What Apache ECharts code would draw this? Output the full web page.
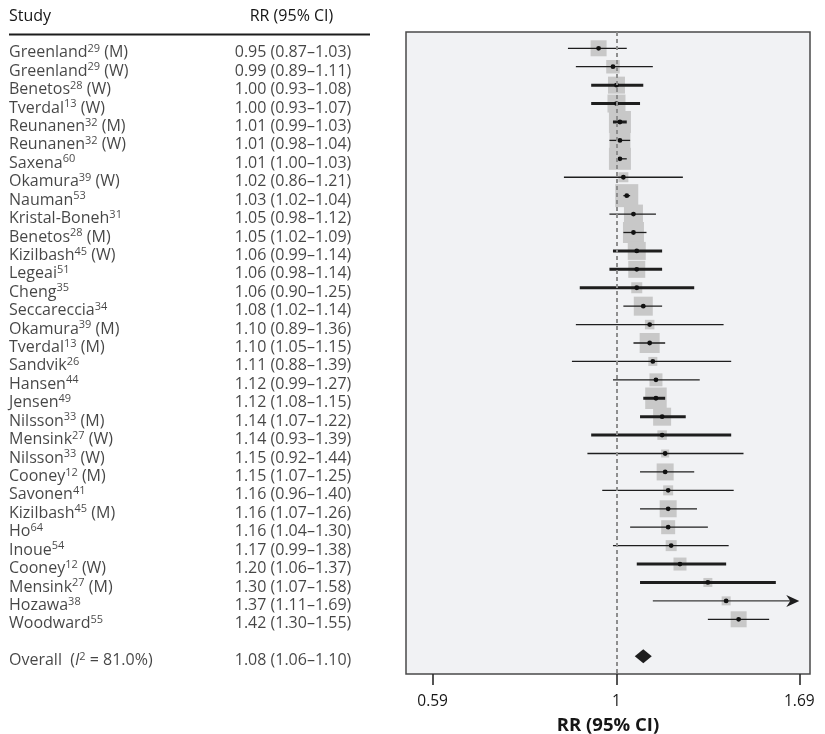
<!DOCTYPE html>
<html><head><meta charset="utf-8">
<script src="https://cdn.jsdelivr.net/npm/echarts@6/dist/echarts.min.js"></script>
<style>html,body{margin:0;padding:0;background:#fff}#c{width:825px;height:734px}</style>
</head><body><div id="c"></div>
<script>
// ---- data ----
const studies = ['Greenland','Greenland','Benetos','Tverdal','Reunanen','Reunanen','Saxena','Okamura','Nauman','Kristal-Boneh','Benetos','Kizilbash','Legeai','Cheng','Seccareccia','Okamura','Tverdal','Sandvik','Hansen','Jensen','Nilsson','Mensink','Nilsson','Cooney','Savonen','Kizilbash','Ho','Inoue','Cooney','Mensink','Hozawa','Woodward'];
const refs = ['29','29','28','13','32','32','60','39','53','31','28','45','51','35','34','39','13','26','44','49','33','27','33','12','41','45','64','54','12','27','38','55'];
const groups = ['(M)','(W)','(W)','(W)','(M)','(W)','','(W)','','','(M)','(W)','','','','(M)','(M)','','','','(M)','(W)','(W)','(M)','','(M)','','','(W)','(M)','',''];
const rr    = [0.95,0.99,1.00,1.00,1.01,1.01,1.01,1.02,1.03,1.05,1.05,1.06,1.06,1.06,1.08,1.10,1.10,1.11,1.12,1.12,1.14,1.14,1.15,1.15,1.16,1.16,1.16,1.17,1.20,1.30,1.37,1.42];
const lower = [0.87,0.89,0.93,0.93,0.99,0.98,1.00,0.86,1.02,0.98,1.02,0.99,0.98,0.90,1.02,0.89,1.05,0.88,0.99,1.08,1.07,0.93,0.92,1.07,0.96,1.07,1.04,0.99,1.06,1.07,1.11,1.30];
const upper = [1.03,1.11,1.08,1.07,1.03,1.04,1.03,1.21,1.04,1.12,1.09,1.14,1.14,1.25,1.14,1.36,1.15,1.39,1.27,1.15,1.22,1.39,1.44,1.25,1.40,1.26,1.30,1.38,1.37,1.58,1.69,1.55];
// relative study weight (drawn as box side)
const weights = [16,13.5,17,18,22,21,22,10,23,19,21,18,17,11,19,9.5,20,9,13,21.5,18,9.5,8,17,10,17,14,11,13,9,9,16];
// CI line group (1 = bold line in source)
const ciGroup = [0,0,1,1,1,0,0,0,0,0,0,1,1,1,0,0,0,0,0,1,1,1,0,0,0,0,0,0,1,1,0,0];
// CI truncated at plot limit (arrow)
const truncated = [0,0,0,0,0,0,0,0,0,0,0,0,0,0,0,0,0,0,0,0,0,0,0,0,0,0,0,0,0,0,1,0];
const overallRR = 1.08, overallLo = 1.06, overallHi = 1.10, overallI2 = '81.0%';
const xTickValues = [0.59, 1, 1.69];
const xTickLabels = ['0.59', '1', '1.69'];

// ---- layout / style ----
const FONT = '"Open Sans", "DejaVu Sans", sans-serif';
const TXT = '#161616';
const ln = Math.log;
const overallRow = studies.length + 1;
const yMin = -0.885, yMax = 33.97;
const xMin = -0.6041, xMax = 0.5555;
const colStudy = 9, colRR = 293;

const fmt = v => v.toFixed(2);
const ciData = rr.map((v, i) => [ln(v), i, ln(lower[i]), ln(upper[i]), weights[i], ciGroup[i], truncated[i]]);
const nameData = studies.map((s, i) => ({value: [colStudy, i], label: {formatter: '{n|' + s + '}{s|' + refs[i] + '}' + (groups[i] ? '{n| ' + groups[i] + '}' : '')}}));
nameData.push({value: [colStudy, overallRow], label: {formatter: '{n|Overall  (}{i|I}{s|2}{n| = ' + overallI2 + ')}'}});
const rrData = rr.map((v, i) => ({value: [colRR, i], label: {formatter: fmt(v) + ' (' + fmt(lower[i]) + '–' + fmt(upper[i]) + ')'}}));
rrData.push({value: [colRR, overallRow], label: {formatter: fmt(overallRR) + ' (' + fmt(overallLo) + '–' + fmt(overallHi) + ')'}});

const rich = {
  n: {fontFamily: FONT, fontSize: 16, color: TXT, lineHeight: 19},
  i: {fontFamily: FONT, fontSize: 16, color: TXT, lineHeight: 19, fontStyle: 'italic'},
  s: {fontFamily: FONT, fontSize: 11, color: TXT, lineHeight: 13, verticalAlign: 'top'}
};

const chart = echarts.init(document.getElementById('c'), null, {renderer: 'canvas'});
chart.setOption({
  animation: false,
  backgroundColor: '#ffffff',
  grid: [
    {left: 406, right: 15, top: 32, bottom: 60, outerBoundsMode: 'none', containLabel: false, show: true, backgroundColor: '#f1f2f4', borderColor: '#4a4a4a', borderWidth: 1.5},
    {left: 0, width: 400, top: 36.5, bottom: 55.5, outerBoundsMode: 'none', containLabel: false, show: false}
  ],
  xAxis: [
    {type: 'value', gridIndex: 0, min: xMin, max: xMax, position: 'bottom',
     splitLine: {show: false}, axisLine: {show: false, onZero: false},
     axisTick: {show: true, length: 11, customValues: xTickValues.map(ln), lineStyle: {color: '#2a2a2a', width: 1.6}},
     axisLabel: {show: true, customValues: xTickValues.map(ln), margin: 20, fontFamily: FONT, fontSize: 15.5, color: TXT,
       formatter: v => { let b = 0; xTickValues.forEach((t, k) => { if (Math.abs(ln(t) - v) < Math.abs(ln(xTickValues[b]) - v)) b = k; }); return xTickLabels[b]; }},
     name: 'RR (95% CI)', nameLocation: 'middle', nameGap: 42,
     nameTextStyle: {fontFamily: FONT, fontSize: 18.5, fontWeight: 'bold', color: TXT}},
    {type: 'value', gridIndex: 1, min: 0, max: 400, show: false}
  ],
  yAxis: [
    {type: 'value', gridIndex: 0, min: yMin, max: yMax, inverse: true, show: false},
    {type: 'value', gridIndex: 1, min: yMin, max: yMax, inverse: true, show: false}
  ],
  graphic: [
    {type: 'text', x: 9, y: 16, style: {text: 'Study', font: '16px ' + FONT, fill: TXT, align: 'left', verticalAlign: 'middle'}},
    {type: 'text', x: 291.5, y: 16, style: {text: 'RR (95% CI)', font: '16px ' + FONT, fill: TXT, align: 'center', verticalAlign: 'middle'}},
    {type: 'line', shape: {x1: 9, y1: 34.5, x2: 370, y2: 34.5}, style: {stroke: '#1c1c1c', lineWidth: 2}}
  ],
  series: [
    {type: 'line', xAxisIndex: 0, yAxisIndex: 0, data: [], z: 1,
     markLine: {silent: true, symbol: 'none', label: {show: false}, animation: false,
       lineStyle: {color: '#8e8e8e', type: [4, 3], width: 2}, data: [{xAxis: ln(1)}]}},
    {type: 'custom', xAxisIndex: 0, yAxisIndex: 0, z: 2, data: ciData,
     renderItem: function (params, api) {
       const c = api.coord([api.value(0), api.value(1)]);
       const l = api.coord([api.value(2), api.value(1)]);
       const h = api.coord([api.value(3), api.value(1)]);
       const side = api.value(4);
       const thick = api.value(5) === 1;
       const arrow = api.value(6) === 1;
       const y = c[1];
       const children = [
         {type: 'rect', shape: {x: c[0] - side / 2, y: y - side / 2, width: side, height: side}, style: {fill: '#c8c8c8'}},
         {type: 'line', shape: {x1: l[0], y1: y, x2: arrow ? h[0] - 8 : h[0], y2: y}, style: {stroke: arrow ? '#3a3a3a' : '#1e1e1e', lineWidth: thick ? 3 : 1.3}}
       ];
       if (arrow) {
         children.push({type: 'polygon', shape: {points: [[h[0], y], [h[0] - 13, y - 6], [h[0] - 9, y], [h[0] - 13, y + 6]]}, style: {fill: '#1e1e1e'}});
       }
       children.push({type: 'circle', shape: {cx: c[0], cy: y, r: 2.4}, style: {fill: '#111'}});
       return {type: 'group', children: children};
     }},
    {type: 'scatter', xAxisIndex: 0, yAxisIndex: 0, z: 3, symbol: 'diamond', symbolSize: [17, 14],
     itemStyle: {color: '#1e1e1e', opacity: 1}, data: [[ln(overallRR), overallRow]]},
    {type: 'scatter', xAxisIndex: 1, yAxisIndex: 1, symbolSize: 0, data: nameData,
     label: {show: true, position: 'inside', align: 'left', verticalAlign: 'middle', rich: rich}},
    {type: 'scatter', xAxisIndex: 1, yAxisIndex: 1, symbolSize: 0, data: rrData,
     label: {show: true, position: 'inside', align: 'center', verticalAlign: 'middle', fontFamily: FONT, fontSize: 16, color: TXT}}
  ]
});
</script>
</body></html>
